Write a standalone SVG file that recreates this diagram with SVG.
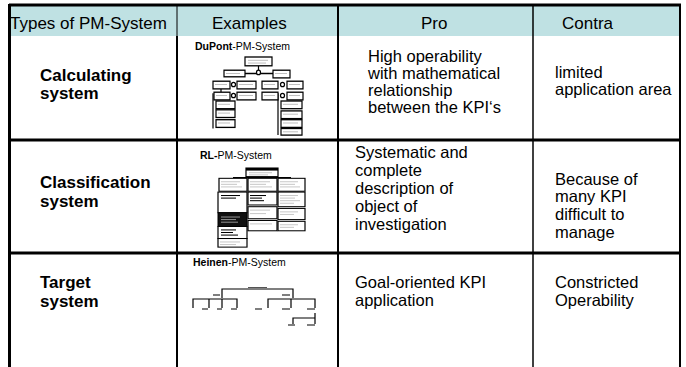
<svg xmlns="http://www.w3.org/2000/svg" width="686" height="367" viewBox="0 0 686 367">
<style>
text{font-family:"Liberation Sans",Arial,sans-serif;fill:#000}
.h{font-size:17px}
.b{font-size:17px;font-weight:bold}
.t{font-size:16.5px}
.s{font-size:10.5px}
.sb{font-weight:bold}
.grid{stroke:#000;fill:none}
.bx{fill:#fff;stroke:#000;stroke-width:1.2}
.bk{fill:#111;stroke:#000;stroke-width:1}
.ln{stroke:#000;stroke-width:1.2;fill:none}
.tl{stroke:#999;stroke-width:0.6}
.wl{stroke:#fff;stroke-width:0.6}
</style>
<rect width="686" height="367" fill="#fff"/>
<g id="table">
<rect x="9" y="6" width="671" height="30" fill="#bfe1e3"/>
<line class="grid" x1="177" y1="6" x2="177" y2="36" stroke="#8a9a9a" stroke-width="1"/>
<line class="grid" x1="177" y1="36" x2="177" y2="367" stroke-width="2"/>
<line class="grid" x1="338" y1="6" x2="338" y2="367" stroke-width="2"/>
<line class="grid" x1="533" y1="6" x2="533" y2="367" stroke-width="1.5"/>
<line class="grid" x1="680" y1="6" x2="680" y2="367" stroke-width="2"/>
<line class="grid" x1="9" y1="5" x2="681" y2="5" stroke-width="3"/>
<line class="grid" x1="9" y1="140" x2="681" y2="140" stroke-width="3"/>
<line class="grid" x1="9" y1="253" x2="681" y2="253" stroke-width="3"/>
<line class="grid" x1="9.5" y1="4" x2="9.5" y2="367" stroke-width="3"/>
</g>
<g id="header">
<text class="h" x="10" y="29">Types of PM-System</text>
<text class="h" x="212" y="29">Examples</text>
<text class="h" x="421" y="29">Pro</text>
<text class="h" x="562" y="29">Contra</text>
</g>
<g id="row-calculating">
<text class="b" x="40" y="81">Calculating</text>
<text class="b" x="40" y="99">system</text>
<text class="s" x="195" y="50"><tspan class="sb">DuPont</tspan>-PM-System</text>
<text class="t" x="368" y="62">High operability</text>
<text class="t" x="368" y="79">with mathematical</text>
<text class="t" x="368" y="96">relationship</text>
<text class="t" x="368" y="113">between the KPI‘s</text>
<text class="t" x="555" y="78">limited</text>
<text class="t" x="555" y="95">application area</text>
</g>
<g id="dupont" transform="translate(0,57) scale(1,1.1) translate(0,-67)">
<path class="ln" d="M234.5 82 H282 M234.5 82 V79 M282 82 V79 M258.5 75 V79 M221 96 V99 M213 100 V132 M278 100 V138"/>
<rect class="bx" x="245" y="67" width="27" height="8"/>
<line class="tl" x1="248" y1="70" x2="268" y2="70"/><line class="tl" x1="248" y1="72.5" x2="266" y2="72.5"/>
<circle cx="258.5" cy="81" r="2" fill="#fff" stroke="#000" stroke-width="1.2"/>
<rect class="bx" x="224" y="79" width="21" height="6"/>
<rect class="bx" x="273" y="79" width="17" height="7"/>
<rect class="bx" x="213" y="89" width="17" height="7"/>
<circle cx="233.5" cy="92" r="2" fill="#fff" stroke="#000" stroke-width="1.2"/>
<rect class="bx" x="237" y="89" width="19" height="7"/>
<rect class="bx" x="262" y="89" width="16" height="7"/>
<circle cx="282.5" cy="92" r="2" fill="#fff" stroke="#000" stroke-width="1.2"/>
<rect class="bx" x="287" y="89" width="16" height="7"/>
<rect class="bx" x="214" y="99" width="16" height="7"/>
<circle cx="233.5" cy="102" r="2" fill="#fff" stroke="#000" stroke-width="1.2"/>
<rect class="bx" x="237" y="99" width="19" height="7"/>
<rect class="bx" x="262" y="99" width="16" height="7"/>
<circle cx="282.5" cy="102" r="2" fill="#fff" stroke="#000" stroke-width="1.2"/>
<rect class="bx" x="287" y="99" width="16" height="7"/>
<rect class="bx" x="216" y="107" width="19" height="7"/>
<rect class="bx" x="216" y="115" width="19" height="7"/>
<rect class="bx" x="216" y="124" width="19" height="7"/>
<rect class="bx" x="281" y="107" width="21" height="7"/>
<rect class="bx" x="281" y="116" width="21" height="7"/>
<rect class="bx" x="281" y="124" width="21" height="7"/>
<rect class="bx" x="281" y="132" width="21" height="6"/>
<g class="tl">
<line x1="226" y1="82" x2="240" y2="82"/><line x1="275" y1="82" x2="287" y2="82"/>
<line x1="215" y1="92" x2="227" y2="92"/><line x1="239" y1="92" x2="253" y2="92"/>
<line x1="264" y1="92" x2="275" y2="92"/><line x1="289" y1="92" x2="300" y2="92"/>
<line x1="216" y1="102" x2="227" y2="102"/><line x1="239" y1="102" x2="253" y2="102"/>
<line x1="264" y1="102" x2="275" y2="102"/><line x1="289" y1="102" x2="300" y2="102"/>
<line x1="218" y1="110" x2="230" y2="110"/><line x1="218" y1="118" x2="230" y2="118"/><line x1="218" y1="127" x2="230" y2="127"/>
<line x1="283" y1="110" x2="298" y2="110"/><line x1="283" y1="119" x2="298" y2="119"/><line x1="283" y1="127" x2="298" y2="127"/><line x1="283" y1="135" x2="298" y2="135"/>
</g>
</g>
<g id="row-classification">
<text class="b" x="40" y="188">Classification</text>
<text class="b" x="40" y="207">system</text>
<text class="s" x="200" y="159"><tspan class="sb">RL-</tspan>PM-System</text>
<text class="t" x="355" y="158">Systematic and</text>
<text class="t" x="355" y="176">complete</text>
<text class="t" x="355" y="194">description of</text>
<text class="t" x="355" y="212">object of</text>
<text class="t" x="355" y="230">investigation</text>
<text class="t" x="555" y="185">Because of</text>
<text class="t" x="555" y="202">many KPI</text>
<text class="t" x="555" y="220">difficult to</text>
<text class="t" x="555" y="238">manage</text>
</g>
<g id="rl" transform="translate(0,168) scale(1,0.86) translate(0,-170)">
<path class="ln" d="M262 180 V181 M233 181 H291"/>
<rect class="bx" x="246" y="170" width="32" height="10" stroke-width="1.5"/>
<rect x="246" y="170" width="32" height="3" fill="#000"/>
<line class="tl" x1="249" y1="175.5" x2="272" y2="175.5"/><line class="tl" x1="249" y1="178" x2="268" y2="178"/>
<rect class="bx" x="219" y="182" width="28" height="15"/>
<rect class="bx" x="248" y="182" width="29" height="15"/>
<rect class="bx" x="278" y="182" width="27" height="15"/>
<rect class="bx" x="218" y="198" width="29" height="24" stroke-width="2"/>
<rect class="bk" x="218" y="222" width="29" height="16"/>
<rect class="bx" x="218" y="238" width="29" height="14" stroke-width="1.6"/>
<rect class="bx" x="218" y="252" width="29" height="10"/>
<rect class="bx" x="248" y="198" width="29" height="15" stroke-width="1.8"/>
<rect class="bx" x="248" y="215" width="29" height="14"/>
<rect class="bx" x="248" y="231" width="29" height="12"/>
<rect class="bx" x="278" y="198" width="27" height="17"/>
<rect class="bx" x="278" y="217" width="27" height="13"/>
<rect class="bx" x="278" y="232" width="27" height="11"/>
<g class="tl">
<line x1="221" y1="186" x2="240" y2="186"/><line x1="221" y1="189" x2="237" y2="189"/><line x1="221" y1="192" x2="242" y2="192"/>
<line x1="250" y1="186" x2="270" y2="186"/><line x1="250" y1="189" x2="266" y2="189"/><line x1="250" y1="192" x2="272" y2="192"/>
<line x1="280" y1="186" x2="298" y2="186"/><line x1="280" y1="189" x2="295" y2="189"/><line x1="280" y1="192" x2="300" y2="192"/>
<line x1="250" y1="219" x2="270" y2="219"/><line x1="250" y1="223" x2="266" y2="223"/>
<line x1="250" y1="235" x2="272" y2="235"/>
<line x1="280" y1="202" x2="298" y2="202"/><line x1="280" y1="205" x2="295" y2="205"/><line x1="280" y1="208" x2="300" y2="208"/><line x1="280" y1="211" x2="294" y2="211"/>
<line x1="280" y1="221" x2="298" y2="221"/><line x1="280" y1="224" x2="294" y2="224"/>
<line x1="280" y1="236" x2="298" y2="236"/><line x1="280" y1="239" x2="294" y2="239"/>
<line x1="220" y1="256" x2="240" y2="256"/><line x1="220" y1="259" x2="236" y2="259"/>
</g>
<g stroke="#000" stroke-width="1.2">
<line x1="221" y1="202" x2="240" y2="202"/><line x1="221" y1="205" x2="236" y2="205"/>
<line x1="250" y1="202" x2="266" y2="202"/><line x1="250" y1="205" x2="262" y2="205"/><line x1="250" y1="208" x2="264" y2="208"/>
<line x1="221" y1="242" x2="236" y2="242"/><line x1="221" y1="245" x2="233" y2="245"/><line x1="221" y1="248" x2="238" y2="248"/>
</g>
<g class="wl"><line x1="221" y1="227" x2="240" y2="227"/><line x1="221" y1="230" x2="236" y2="230"/><line x1="221" y1="233" x2="238" y2="233"/></g>
</g>
<g id="row-target">
<text class="b" x="40" y="288">Target</text>
<text class="b" x="40" y="307">system</text>
<text class="s" x="193" y="266"><tspan class="sb">Heinen</tspan>-PM-System</text>
<text class="t" x="355" y="288">Goal-oriented KPI</text>
<text class="t" x="355" y="306">application</text>
<text class="t" x="555" y="288">Constricted</text>
<text class="t" x="555" y="306">Operability</text>
</g>
<g id="heinen" transform="translate(0,-22)">
<path class="ln" d="M222 320 V311 H293 V320 M213 317 H220 M282 317 H290"/>
<line x1="248" y1="309.5" x2="267" y2="309.5" stroke="#555" stroke-width="1"/>
<path class="ln" d="M193 330 V321 H237 V330 M209 321 V330 M222 321 V330 M202 331 H208 M217 331 H222 M231 331 H237 M255 331 H262"/>
<path class="ln" d="M268 330 V321 H315 V330 M291 321 V330 M282 331 H290 M307 331 H315 M315 335 V346 M293 346 V340 H315 M288 347 H295 M307 347 H315"/>
</g>
</svg>
